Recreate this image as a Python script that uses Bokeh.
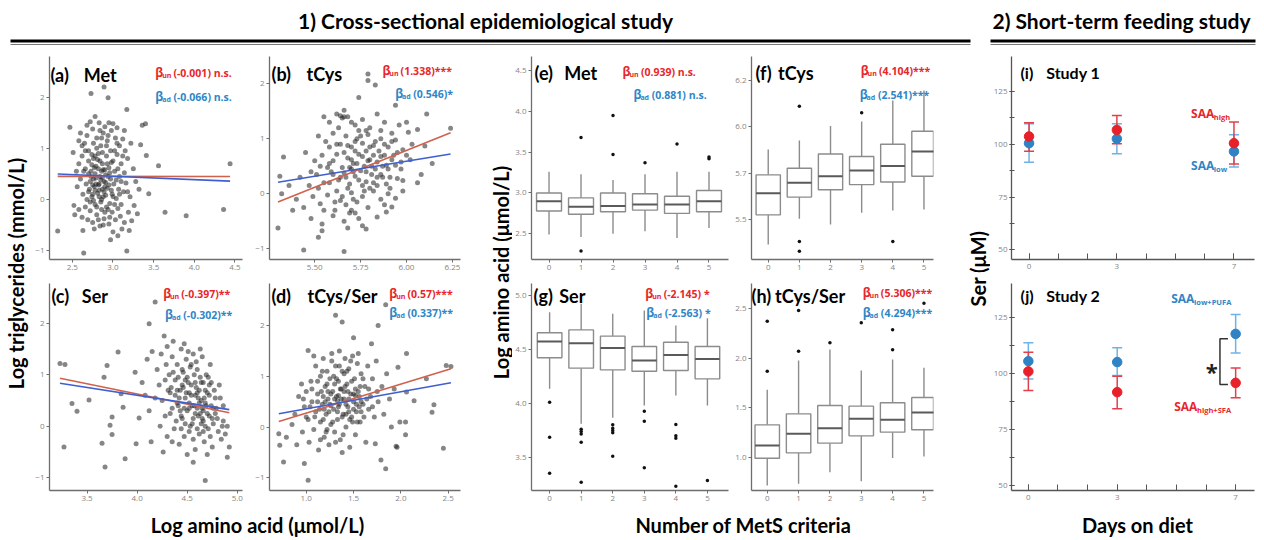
import math
from bokeh.plotting import figure
from bokeh.layouts import row, column
from bokeh.models import Range1d, Label, FixedTicker, NumeralTickFormatter
from bokeh.embed import file_html
from bokeh.resources import INLINE

# ------------------------------------------------------------------ data
met_pts = [(2.32,-0.62),(2.64,-1.05),(3.17,-1.01),(2.89,2.2),(2.73,2.07),(2.94,1.99),(3.17,1.76),(3.36,1.45),
    (3.40,1.48),(3.41,0.86),(3.56,0.66),(4.44,0.70),(3.64,-0.25),(3.90,-0.32),(4.36,-0.20),(3.44,0.11),(3.34,1.07),
    (2.47,1.41),(2.51,0.92),(2.52,-0.12),(2.53,-0.30),(2.63,-0.61),(2.77,-0.58),(3.0,-0.64),(3.11,-0.58),(3.2,-0.61),
    (2.97,-0.79),(3.06,-0.71),(2.60,1.30),(2.65,1.10),(2.68,1.45),(2.70,0.95),(2.72,1.52),(2.75,1.38),(2.78,1.62),
    (2.80,1.20),(2.83,1.50),(2.85,1.05),(2.88,1.30),(2.90,1.42),(2.93,1.15),(2.95,1.50),(2.98,1.35),(3.00,1.48),
    (3.03,1.20),(3.05,1.40),(3.08,1.05),(3.12,1.18),(3.15,0.95),(3.22,1.10),(2.58,0.70),(2.62,0.85),(2.66,0.60),
    (2.70,0.75),(2.73,0.55),(2.76,0.80),(2.79,0.65),(2.82,0.90),(2.84,0.45),(2.87,0.70),(2.90,0.58),(2.92,0.85),
    (2.95,0.62),(2.97,0.40),(3.00,0.75),(3.02,0.55),(3.05,0.88),(3.08,0.45),(3.10,0.70),(3.14,0.52),(3.18,0.80),
    (3.25,0.60),(3.28,0.35),(2.56,0.25),(2.60,0.40),(2.63,0.10),(2.67,0.30),(2.70,0.15),(2.72,0.35),(2.74,0.05),
    (2.77,0.25),(2.79,0.42),(2.81,0.12),(2.83,0.30),(2.85,-0.05),(2.87,0.20),(2.89,0.35),(2.91,0.08),(2.93,0.22),
    (2.96,-0.08),(2.98,0.18),(3.01,0.30),(3.04,0.02),(3.07,0.20),(3.10,-0.10),(3.13,0.15),(3.16,0.32),(3.21,0.05),
    (3.26,-0.12),(2.58,-0.20),(2.62,-0.35),(2.66,-0.15),(2.69,-0.40),(2.72,-0.22),(2.75,-0.45),(2.78,-0.10),
    (2.80,-0.30),(2.84,-0.52),(2.86,-0.20),(2.89,-0.38),(2.92,-0.15),(2.95,-0.48),(2.99,-0.25),(3.03,-0.40),
    (3.06,-0.18),(3.09,-0.33),(3.14,-0.45),(3.19,-0.25),(3.23,-0.42),(3.30,-0.28),(2.78,0.50),(2.82,0.60),
    (2.86,0.55),(2.74,0.68),(2.88,0.05),(2.76,-0.02),(2.94,0.45),(2.68,1.25),(3.32,0.20),(2.55,0.55),
    (2.71,0.20),(2.73,0.45),(2.75,0.10),(2.77,0.62),(2.79,0.30),(2.81,0.78),(2.83,0.05),(2.85,0.38),(2.87,0.92),
    (2.89,0.15),(2.91,0.48),(2.93,0.70),(2.95,0.28),(2.97,0.95),(2.99,0.10),(2.72,-0.05),(2.74,0.88),(2.76,0.40),
    (2.78,0.18),(2.80,1.00),(2.82,0.28),(2.84,0.75),(2.86,0.00),(2.88,0.58),(2.90,0.25),(2.92,1.05),(2.94,-0.20),
    (2.96,0.52),(2.98,0.72),(3.00,0.05),(3.02,0.95),(3.04,0.38),(2.70,0.50),(2.86,1.20),(2.80,-0.15),(2.90,-0.25),
    (2.84,1.35),(2.76,1.10),(2.94,1.25),(3.06,0.60),(3.08,0.10),(3.12,0.85),(2.68,0.00),(2.64,0.55),(2.66,0.95),
    (2.88,-0.50),(3.02,-0.10),(3.10,0.35),(2.82,-0.40),(2.96,-0.35),(2.78,0.85),(2.87,0.43),(2.83,0.18),(2.91,0.33),
    (2.75,0.28),(3.14,1.35),(3.18,0.15),(2.62,1.05),(2.58,1.15),(3.05,1.10)]

tcys_pts = [(5.79,2.18),(5.79,2.06),(5.83,1.98),(5.74,1.75),(6.11,1.45),(5.94,1.61),(5.33,0.67),(5.31,0.32),
    (5.32,0.00),(5.30,-0.62),(5.44,-1.02),(5.66,-1.05),(5.52,-0.79),(5.54,-0.67),(6.24,1.19),(6.14,0.55),(6.06,0.20),
    (6.10,0.87),(6.06,1.17),(6.01,1.12),(5.98,0.24),(5.92,-0.24),(5.89,-0.33),(5.78,-0.64),(5.70,-0.30),
    (5.55,1.40),(5.58,1.30),(5.62,1.45),(5.65,1.38),(5.66,1.52),(5.68,1.40),(5.72,1.25),(5.76,1.35),(5.80,1.20),
    (5.84,1.45),(5.88,1.30),(5.92,1.10),(5.96,1.25),(6.00,1.30),(5.52,1.05),(5.56,0.95),(5.60,1.10),(5.64,0.90),
    (5.67,1.05),(5.70,0.85),(5.73,1.00),(5.76,0.92),(5.79,1.08),(5.82,0.88),(5.86,1.00),(5.90,0.85),(5.94,0.98),
    (5.98,0.80),(6.03,0.90),(5.45,0.75),(5.50,0.60),(5.54,0.70),(5.58,0.55),(5.62,0.72),(5.65,0.48),(5.68,0.65),
    (5.71,0.55),(5.74,0.72),(5.77,0.50),(5.80,0.62),(5.83,0.45),(5.86,0.68),(5.89,0.52),(5.93,0.70),(5.97,0.58),
    (6.02,0.62),(5.42,0.30),(5.47,0.15),(5.51,0.35),(5.55,0.20),(5.59,0.40),(5.63,0.25),(5.66,0.38),(5.69,0.18),
    (5.72,0.32),(5.75,0.42),(5.78,0.22),(5.81,0.35),(5.84,0.15),(5.87,0.30),(5.91,0.10),(5.95,0.28),(5.40,-0.10),
    (5.44,-0.25),(5.49,-0.05),(5.53,-0.18),(5.57,-0.02),(5.61,-0.30),(5.64,-0.12),(5.67,-0.20),(5.70,0.02),
    (5.73,-0.15),(5.76,-0.05),(5.79,-0.25),(5.82,0.05),(5.86,-0.10),(5.90,0.00),(5.94,-0.08),(5.48,-0.45),
    (5.54,-0.55),(5.60,-0.40),(5.66,-0.50),(5.72,-0.35),(5.76,-0.58),(5.84,-0.42),(5.62,0.05),(5.70,0.45),
    (5.78,0.78),(5.58,0.85),(5.74,1.15),(5.88,0.70),(5.68,-0.62),(5.36,0.15),(5.38,-0.30),(6.08,0.35),(5.98,0.05),
    (5.60,0.60),(5.62,0.90),(5.64,0.30),(5.66,0.75),(5.68,0.10),(5.70,0.62),(5.72,0.95),(5.74,0.25),(5.76,0.68),
    (5.78,0.40),(5.80,0.85),(5.82,0.20),(5.84,0.58),(5.86,0.35),(5.88,0.90),(5.90,0.45),(5.92,0.62),(5.65,-0.05),
    (5.69,0.48),(5.73,0.55),(5.77,0.05),(5.81,0.50),(5.85,0.78),(5.89,0.18),(5.63,1.20),(5.67,0.30),(5.71,-0.10),
    (5.75,1.05),(5.79,0.60),(5.83,0.95),(5.87,0.50),(5.91,0.30),(5.95,0.75),(5.58,0.20),(5.61,-0.15),(5.57,0.48),
    (5.53,0.50),(5.55,-0.30),(5.70,1.30),(5.66,1.40),(5.64,1.42),(5.74,-0.45),(5.86,1.15),(5.92,0.95),(5.97,0.45),
    (6.00,0.70),(5.52,0.10),(5.48,0.40),(5.80,0.10),(5.72,0.78),(5.68,0.88),(5.76,0.15),(5.84,0.30),(5.60,0.35),
    (5.94,0.52),(5.78,1.15),(5.71,0.40),(5.82,0.70),(5.88,-0.20),(5.69,-0.35)]

ser_pts = [(3.23,1.22),(3.28,1.20),(3.27,-0.40),(3.35,0.44),(3.40,0.29),(3.52,0.51),(3.65,-0.33),(3.68,-0.79),
    (3.70,1.18),(3.67,0.95),(3.81,1.44),(3.75,0.18),(3.73,0.02),(3.75,-0.16),(3.84,0.63),(3.86,0.37),(3.88,-0.63),
    (4.12,1.99),(4.18,2.41),(3.99,-0.34),(3.98,1.05),(4.02,0.16),(4.68,-1.05),(4.92,-0.40),(4.90,-0.60),(4.85,0.00),
    (4.05,0.85),(4.08,0.60),(4.10,1.30),(4.15,1.45),(4.12,0.30),(4.14,-0.30),(4.20,1.10),(4.22,0.80),(4.24,1.40),
    (4.25,0.50),(4.27,1.75),(4.28,0.20),(4.30,1.55),(4.30,-0.20),(4.32,1.00),(4.33,0.65),(4.35,1.35),(4.35,0.35),
    (4.37,-0.05),(4.38,0.90),(4.40,1.20),(4.40,0.45),(4.42,-0.35),(4.43,0.70),(4.44,1.50),(4.45,0.15),(4.46,1.05),
    (4.47,-0.20),(4.48,0.55),(4.49,1.30),(4.50,0.30),(4.51,0.85),(4.52,-0.10),(4.53,1.15),(4.54,0.60),(4.55,0.05),
    (4.56,1.40),(4.57,0.40),(4.58,-0.45),(4.59,0.75),(4.60,1.10),(4.61,0.20),(4.62,-0.15),(4.63,0.95),(4.64,0.50),
    (4.65,1.35),(4.66,0.10),(4.67,-0.30),(4.68,0.70),(4.69,1.00),(4.70,0.25),(4.71,-0.05),(4.72,0.60),(4.74,0.85),
    (4.75,-0.40),(4.76,0.35),(4.78,0.55),(4.80,0.15),(4.82,0.80),(4.84,-0.25),(4.86,0.40),(4.88,-0.15),(4.23,0.00),
    (4.26,-0.50),(4.36,1.65),(4.41,0.95),(4.47,1.60),(4.54,1.20),(4.58,0.25),(4.63,1.50),(4.52,0.45),(4.45,0.80),
    (4.39,0.10),(4.60,0.65),(4.50,-0.55),(4.73,1.20),(4.18,0.55),(4.29,1.20),(4.56,-0.70),(4.66,0.85),(4.43,0.30),
    (4.34,0.75),(4.65,0.35),(4.70,-0.55),
    (4.42,0.55),(4.44,0.20),(4.46,0.75),(4.48,0.05),(4.50,0.95),(4.52,0.35),(4.54,0.80),(4.56,0.15),(4.58,0.60),
    (4.60,-0.05),(4.62,0.45),(4.64,0.85),(4.66,0.30),(4.68,0.00),(4.70,0.65),(4.72,0.20),(4.74,0.40),(4.76,0.05),
    (4.78,0.25),(4.45,1.10),(4.49,0.65),(4.53,0.00),(4.57,1.00),(4.61,0.55),(4.65,0.15),(4.69,0.40),(4.73,-0.20),
    (4.77,0.70),(4.81,-0.10),(4.55,0.40),(4.59,1.25),(4.63,0.25),(4.67,0.55),(4.71,0.95),(4.75,0.15),(4.41,0.40),
    (4.38,0.60),(4.36,1.05),(4.33,0.25),(4.31,0.70),(4.47,0.35),(4.51,1.45),(4.58,0.85),(4.62,0.70),(4.66,-0.10),
    (4.64,0.05),(4.60,0.35),(4.56,-0.25),(4.52,0.65),(4.48,0.90),(4.44,-0.05),(4.40,0.70),(4.68,0.45),(4.72,0.80),
    (4.79,0.35),(4.83,0.55),(4.86,0.10),(4.90,0.00),(4.35,-0.30),(4.28,0.90)]

ratio_pts = [(0.71,-0.13),(0.72,-0.36),(0.76,-0.69),(0.79,-0.20),(1.02,1.51),(0.98,-0.72),(1.02,-1.05),(1.31,2.20),
    (1.38,2.07),(1.50,1.76),(1.76,2.00),(1.84,2.41),(1.69,1.64),(2.06,1.45),(1.97,1.18),(2.27,0.95),(2.48,1.21),
    (2.53,1.19),(2.14,0.52),(2.35,0.44),(2.33,0.29),(2.45,-0.42),(2.05,0.10),(2.05,-0.15),(1.95,-0.38),(1.84,-0.82),
    (1.79,-0.65),(1.73,-0.33),(2.06,0.69),(1.99,0.10),(0.85,0.05),(0.88,0.25),(0.92,0.60),(0.95,0.85),(0.96,-0.10),
    (0.98,0.40),(1.00,0.70),(1.02,0.15),(1.03,-0.30),(1.05,0.90),(1.06,0.50),(1.08,-0.05),(1.10,1.20),(1.10,0.30),
    (1.12,0.65),(1.13,-0.45),(1.15,1.00),(1.15,0.10),(1.17,0.45),(1.18,1.35),(1.19,-0.20),(1.20,0.80),(1.21,0.25),
    (1.22,1.10),(1.23,0.55),(1.24,-0.35),(1.25,0.95),(1.26,0.05),(1.27,1.45),(1.28,0.70),(1.29,0.35),(1.30,-0.10),
    (1.31,1.20),(1.32,0.60),(1.33,0.15),(1.34,0.90),(1.35,1.50),(1.35,0.45),(1.36,-0.25),(1.37,0.75),(1.38,1.10),
    (1.39,0.25),(1.40,0.55),(1.41,1.35),(1.42,0.00),(1.43,0.85),(1.44,0.40),(1.45,1.15),(1.46,-0.40),(1.47,0.65),
    (1.48,0.20),(1.49,1.40),(1.50,0.50),(1.51,0.95),(1.52,-0.15),(1.53,0.30),(1.54,1.25),(1.55,0.70),(1.57,0.10),
    (1.58,1.05),(1.60,0.45),(1.62,0.80),(1.63,-0.30),(1.65,1.20),(1.66,0.35),(1.68,0.60),(1.70,0.95),(1.72,0.20),
    (1.74,1.30),(1.76,0.50),(1.80,0.80),(1.82,0.25),(1.85,1.05),(1.88,0.55),(1.90,0.00),(1.93,0.75),(1.96,-0.40),
    (1.26,0.42),(1.33,0.52),(1.40,0.70),(1.18,0.60),(1.45,0.30),(1.22,-0.05),(1.30,0.85),(1.52,0.62),(1.12,0.90),
    (1.38,-0.50),(1.56,0.40),(0.90,-0.35),(1.08,1.40),
    (1.14,0.35),(1.16,0.70),(1.18,0.15),(1.20,0.50),(1.22,0.85),(1.24,0.30),(1.26,0.65),(1.28,0.10),(1.30,0.55),
    (1.32,0.95),(1.34,0.40),(1.36,0.75),(1.38,0.20),(1.40,1.05),(1.42,0.45),(1.44,0.70),(1.46,0.15),(1.48,0.90),
    (1.50,0.35),(1.52,0.75),(1.54,0.10),(1.56,0.60),(1.58,0.30),(1.60,0.95),(1.17,1.10),(1.21,-0.10),(1.25,0.45),
    (1.29,1.00),(1.33,0.30),(1.37,0.55),(1.41,0.80),(1.45,0.55),(1.49,0.10),(1.53,0.45),(1.57,0.80),(1.61,0.20),
    (1.64,0.55),(1.12,0.50),(1.09,0.20),(1.06,0.75),(1.04,0.40),(1.27,1.30),(1.35,1.20),(1.43,1.10),(1.47,1.30),
    (1.31,-0.30),(1.39,-0.15),(1.23,0.70),(1.19,0.35),(1.34,0.62),(1.42,0.25),(1.50,0.65),(1.58,0.50),(1.66,0.75),
    (1.70,0.40),(1.75,0.70),(1.15,-0.25),(1.00,0.20),(0.97,0.55),(1.55,1.45)]

amino_names = ["Met", "tCys", "Ser", "tCys/Ser"]
scatter_beta_un = [-0.001, 1.338, -0.397, 0.57]
scatter_beta_ad = [-0.066, 0.546, -0.302, 0.337]
scatter_int_un = [0.452, -7.241, 2.214, -0.295]
scatter_int_ad = [0.650, -2.684, 1.809, 0.021]
scatter_sig_un = [" n.s.", "***", "**", "***"]
scatter_sig_ad = [" n.s.", "*", "**", "**"]

box_beta_un = [0.939, 4.104, -2.145, 5.306]
box_beta_ad = [0.881, 2.541, -2.563, 4.294]
box_sig_un = [" n.s.", "***", " *", "***"]
box_sig_ad = [" n.s.", "***", " *", "***"]

mets_criteria = [0, 1, 2, 3, 4, 5]
# (lower whisker, q1, median, q3, upper whisker)
met_box = [(2.49,2.78,2.90,3.00,3.26),(2.46,2.74,2.83,2.94,3.23),(2.50,2.77,2.84,3.00,3.16),
           (2.53,2.79,2.86,2.99,3.23),(2.45,2.75,2.86,2.96,3.26),(2.57,2.77,2.90,3.03,3.26)]
met_out = [(1,3.68),(1,2.29),(2,3.95),(2,3.47),(3,3.37),(4,3.60),(5,3.44),(5,3.42)]
tcys_box = [(5.376,5.525,5.634,5.726,5.853),(5.505,5.614,5.686,5.759,5.898),(5.476,5.651,5.719,5.831,5.971),
            (5.535,5.677,5.748,5.818,5.994),(5.547,5.690,5.770,5.880,6.100),(5.552,5.719,5.843,5.945,6.150)]
tcys_out = [(1,6.071),(1,5.391),(1,5.342),(3,6.038),(4,5.391)]
tcys_tick_labels = ["5.5", "5.7", "6.0", "6.2"]
ser_box = [(4.134,4.422,4.573,4.654,4.845),(3.81,4.326,4.558,4.681,4.923),(3.865,4.31,4.514,4.623,4.83),
           (3.98,4.298,4.397,4.527,4.86),(4.072,4.304,4.449,4.567,4.722),(3.98,4.227,4.412,4.527,4.79)]
ser_out = [(0,4.01),(0,3.685),(0,3.351),(1,3.76),(1,3.738),(1,3.716),(1,3.639),(1,3.268),(2,3.80),(2,3.769),
           (2,3.747),(2,3.726),(2,3.509),(3,3.927),(3,3.834),(3,3.401),(4,3.803),(4,3.70),(4,3.676),(4,3.231),(5,3.283)]
ratio_box = [(0.714,0.99,1.118,1.327,1.681),(0.731,1.044,1.236,1.438,1.978),(0.849,1.142,1.293,1.523,2.089),
             (0.757,1.216,1.388,1.516,1.876),(0.993,1.253,1.378,1.55,1.988),(1.007,1.277,1.452,1.603,1.903)]
ratio_out = [(0,2.375),(0,1.87),(1,2.483),(1,2.072),(2,2.156),(3,2.358),(4,2.288),(4,2.085),(5,2.557)]

days = [0, 3, 7]
s1_high_mean = [103.7, 106.8, 100.5]; s1_high_lo = [96.7, 100.2, 90.7]; s1_high_hi = [110.2, 113.6, 110.5]
s1_low_mean = [100.5, 102.6, 96.6];  s1_low_lo = [91.5, 95.5, 89.2];   s1_low_hi = [109.7, 109.7, 104.5]
s2_pufa_mean = [105.6, 105.2, 117.8]; s2_pufa_lo = [97.6, 99.2, 109.3]; s2_pufa_hi = [113.8, 111.6, 126.5]
s2_sfa_mean = [101.0, 91.75, 95.9];   s2_sfa_lo = [92.5, 84.3, 89.2];   s2_sfa_hi = [109.6, 98.9, 102.6]

# ------------------------------------------------------------------ style
FONT = "Lato"
SFONT = "Open Sans"
RED_TXT = "#e8262b"
BLUE_TXT = "#2f86c6"
RED_LINE = "#d0614c"
BLUE_LINE = "#3f5fcf"
AX = "#6e6e6e"
BOX_LINE = "#8c8c8c"
BOX_W = 0.78


def calib(v1, p1, v2, p2, q):
    return v1 + (q - p1) * (v2 - v1) / (p2 - p1)


def panel(ox, oy, w, h, bl, br, bt, bb, xcal, ycal):
    fx0, fx1 = ox + bl, ox + w - br
    fy0, fy1 = oy + bt, oy + h - bb
    xr = Range1d(calib(*xcal, fx0), calib(*xcal, fx1))
    yr = Range1d(calib(*ycal, fy1), calib(*ycal, fy0))
    p = figure(width=w, height=h, x_range=xr, y_range=yr, output_backend="svg", toolbar_location=None,
               min_border_left=bl, min_border_right=br, min_border_top=bt, min_border_bottom=bb)
    p.grid.visible = False
    p.outline_line_color = None
    for ax in p.axis:
        ax.axis_line_color = AX
        ax.axis_line_width = 1.3
        ax.major_tick_line_color = AX
        ax.major_tick_out = 3
        ax.major_tick_in = 0
        ax.minor_tick_line_color = None
        ax.major_label_text_font = SFONT
        ax.major_label_text_font_size = "8px"
        ax.major_label_text_color = "#858585"
        ax.major_label_standoff = 2

    def to_data(px, py):
        return calib(*xcal, px), calib(*ycal, py)
    return p, to_data


def add_text(p, m, px, py, text, size, color="black", font=FONT, align="left", angle=0.0):
    x, y = m(px, py)
    p.add_layout(Label(x=x, y=y, text=text, text_font=font, text_font_size=size, text_font_style="bold",
                       text_color=color, text_align=align, text_baseline="middle", angle=angle))


def beta_label(p, m, px, py, sub, rest, color):
    add_text(p, m, px, py, "β", "12px", color, font=SFONT)
    add_text(p, m, px + 7, py + 3, sub, "7px", color, font=SFONT)
    add_text(p, m, px + 18.5, py, rest, "10.5px", color, font=SFONT)


def title(p, m, tag, tag_px, name, name_px, py, size="18px"):
    add_text(p, m, tag_px, py, tag, size)
    add_text(p, m, name_px, py, name, size)


# geometry (reference pixel coordinates; page has no margin)
TOP_Y, TOP_H, TOP_BT, TOP_BB = 50, 225, 6, 16
BOT_Y, BOT_H, BOT_BT, BOT_BB = 275, 230, 8, 15
COL_A = (32, 220, 13, 10)
COL_B = (252, 218, 12, 10)
COL_E = (512, 220, 17, 4)
COL_F = (732, 211, 16, 10)
COL_I = (990, 272, 19, 8)


def mk(col, top, xcal, ycal):
    ox, w, bl, br = col
    if top:
        return panel(ox, TOP_Y, w, TOP_H, bl, br, TOP_BT, TOP_BB, xcal, ycal)
    return panel(ox, BOT_Y, w, BOT_H, bl, br, BOT_BT, BOT_BB, xcal, ycal)


# ------------------------------------------------------------------ scatter panels
scatter_specs = [
    (met_pts, COL_A, True, (2.5, 68.3, 4.5, 234.3), (2, 96.7, -1, 250.0), [2.5, 3.0, 3.5, 4.0, 4.5], "0.0",
     "(a)", 46, 80, 74, (153, 72), (153, 96)),
    (tcys_pts, COL_B, True, (5.25, 263.3, 6.25, 451.7), (2, 83.3, -1, 248.3), [5.25, 5.5, 5.75, 6.0, 6.25], "0.00",
     "(b)", 266, 302, 73, (380, 70), (393, 93)),
    (ser_pts, COL_A, False, (3.5, 83.3, 5.0, 236.7), (2, 322.7, -1, 477.3), [3.5, 4.0, 4.5, 5.0], "0.0",
     "(c)", 47, 78, 295, (161, 293), (163, 314)),
    (ratio_pts, COL_B, False, (1.0, 301.7, 2.5, 447.3), (2, 325.0, -1, 477.3), [1.0, 1.5, 2.0, 2.5], "0.0",
     "(d)", 266, 303, 295, (387, 293), (387, 312)),
]
scatter_figs = []
for i, (pts, col, top, xcal, ycal, xt, xf, tag, tpx, npx, tpy, rpos, bpos) in enumerate(scatter_specs):
    p, m = mk(col, top, xcal, ycal)
    xs = [q[0] for q in pts]
    ys = [q[1] for q in pts]
    p.scatter(xs, ys, size=5, fill_color="#222222", fill_alpha=0.55, line_color=None)
    x0, x1 = min(xs), max(xs)
    p.line([x0, x1], [scatter_int_un[i] + scatter_beta_un[i] * x0, scatter_int_un[i] + scatter_beta_un[i] * x1],
           line_color=RED_LINE, line_width=1.6)
    p.line([x0, x1], [scatter_int_ad[i] + scatter_beta_ad[i] * x0, scatter_int_ad[i] + scatter_beta_ad[i] * x1],
           line_color=BLUE_LINE, line_width=1.6)
    p.xaxis.ticker = FixedTicker(ticks=xt)
    p.xaxis.formatter = NumeralTickFormatter(format=xf)
    p.yaxis.ticker = FixedTicker(ticks=[-1, 0, 1, 2])
    title(p, m, tag, tpx, amino_names[i], npx, tpy)
    beta_label(p, m, rpos[0], rpos[1], "un", "(%s)%s" % (scatter_beta_un[i], scatter_sig_un[i]), RED_TXT)
    beta_label(p, m, bpos[0], bpos[1], "ad", "(%s)%s" % (scatter_beta_ad[i], scatter_sig_ad[i]), BLUE_TXT)
    scatter_figs.append(p)

# ------------------------------------------------------------------ box panels
tcys_ticks = [5.5 + k * (6.2 - 5.5) / 3 for k in range(4)]
box_specs = [
    (met_box, met_out, COL_E, True, (0, 546.7, 5, 708.3), (4.5, 70.0, 2.5, 233.3), [2.5, 3.0, 3.5, 4.0, 4.5],
     "(e)", 532, 562, 72, (621, 71), (632, 94)),
    (tcys_box, tcys_out, COL_F, True, (0, 765.0, 5, 923.3), (6.2, 80.0, 5.5, 219.3), tcys_ticks,
     "(f)", 752, 775, 72, (859, 70), (858, 94)),
    (ser_box, ser_out, COL_E, False, (0, 547.3, 5, 706.7), (5.0, 295.0, 3.5, 456.7), [3.5, 4.0, 4.5, 5.0],
     "(g)", 531, 557, 295, (644, 293), (645, 312)),
    (ratio_box, ratio_out, COL_F, False, (0, 764.0, 5, 923.3), (2.5, 308.3, 1.0, 456.7), [1.0, 1.5, 2.0, 2.5],
     "(h)", 748, 772, 295, (861, 292), (861, 312)),
]
box_figs = []
for i, (stats, outs, col, top, xcal, ycal, yt, tag, tpx, npx, tpy, rpos, bpos) in enumerate(box_specs):
    p, m = mk(col, top, xcal, ycal)
    cats = mets_criteria
    lo = [s[0] for s in stats]
    q1 = [s[1] for s in stats]
    med = [s[2] for s in stats]
    q3 = [s[3] for s in stats]
    hi = [s[4] for s in stats]
    p.segment(x0=cats, y0=q3, x1=cats, y1=hi, line_color=BOX_LINE, line_width=1.4)
    p.segment(x0=cats, y0=lo, x1=cats, y1=q1, line_color=BOX_LINE, line_width=1.4)
    p.vbar(x=cats, width=BOX_W, bottom=q1, top=q3, fill_color="white", line_color=BOX_LINE, line_width=1.4)
    p.segment(x0=[c - BOX_W / 2 for c in cats], y0=med, x1=[c + BOX_W / 2 for c in cats], y1=med,
              line_color="#5a5a5a", line_width=2)
    p.scatter([o[0] for o in outs], [o[1] for o in outs], size=3.5, fill_color="#111111", line_color=None)
    p.xaxis.ticker = FixedTicker(ticks=cats)
    p.yaxis.ticker = FixedTicker(ticks=yt)
    if i == 1:
        p.yaxis.major_label_overrides = {t: l for t, l in zip(tcys_ticks, tcys_tick_labels)}
    else:
        p.yaxis.formatter = NumeralTickFormatter(format="0.0")
    title(p, m, tag, tpx, amino_names[i], npx, tpy)
    beta_label(p, m, rpos[0], rpos[1], "un", "(%s)%s" % (box_beta_un[i], box_sig_un[i]), RED_TXT)
    beta_label(p, m, bpos[0], bpos[1], "ad", "(%s)%s" % (box_beta_ad[i], box_sig_ad[i]), BLUE_TXT)
    box_figs.append(p)

# ------------------------------------------------------------------ feeding panels
RED_PT = "#e8202a"
BLUE_PT = "#2f82c4"
RED_ERR = "#e0404a"
BLUE_ERR = "#6fb3e6"


def feeding(top, xcal, ycal, series, tag, name, tpy):
    p, m = mk(COL_I, top, xcal, ycal)
    for mean, lo, hi, cpt, cerr in series:
        p.segment(x0=days, y0=lo, x1=days, y1=hi, line_color=cerr, line_width=1.5)
        p.scatter(days, lo, marker="dash", size=10, line_color=cerr, line_width=1.5)
        p.scatter(days, hi, marker="dash", size=10, line_color=cerr, line_width=1.5)
    for mean, lo, hi, cpt, cerr in series:
        p.scatter(days, mean, size=9.5, fill_color=cpt, line_color=cpt)
    p.xaxis.ticker = FixedTicker(ticks=[0, 3, 7], minor_ticks=list(range(8)))
    p.yaxis.ticker = FixedTicker(ticks=[50, 75, 100, 125], minor_ticks=[50, 62.5, 75, 87.5, 100, 112.5, 125])
    for ax in p.axis:
        ax.axis_line_color = "#555555"
        ax.major_tick_line_color = "#555555"
        ax.minor_tick_line_color = "#555555"
    p.xaxis.major_tick_in = 6
    p.xaxis.major_tick_out = 0
    p.xaxis.minor_tick_in = 6
    p.xaxis.minor_tick_out = 0
    p.yaxis.major_tick_in = 3
    p.yaxis.major_tick_out = 2
    p.yaxis.minor_tick_in = 3
    p.yaxis.minor_tick_out = 2
    p.xaxis.major_label_standoff = 4
    add_text(p, m, 1018, tpy, tag, "16px")
    add_text(p, m, 1044, tpy, name, "16px")
    return p, m


p_i, m_i = feeding(True, (0, 1026.7, 7, 1233.3), (125, 91.0, 50, 249.3),
                   [(s1_low_mean, s1_low_lo, s1_low_hi, BLUE_PT, BLUE_ERR),
                    (s1_high_mean, s1_high_lo, s1_high_hi, RED_PT, RED_ERR)], "(i)", "Study 1", 72)
add_text(p_i, m_i, 1190, 113, "SAA", "12px", RED_TXT, font=SFONT)
add_text(p_i, m_i, 1213, 116, "high", "7.5px", RED_TXT, font=SFONT)
add_text(p_i, m_i, 1190, 165, "SAA", "12px", BLUE_TXT, font=SFONT)
add_text(p_i, m_i, 1213, 168, "low", "7.5px", BLUE_TXT, font=SFONT)

p_j, m_j = feeding(False, (0, 1026.0, 7, 1235.0), (125, 317.3, 50, 485.0),
                   [(s2_pufa_mean, s2_pufa_lo, s2_pufa_hi, BLUE_PT, BLUE_ERR),
                    (s2_sfa_mean, s2_sfa_lo, s2_sfa_hi, RED_PT, RED_ERR)], "(j)", "Study 2", 295)
add_text(p_j, m_j, 1170, 298, "SAA", "12px", BLUE_TXT, font=SFONT)
add_text(p_j, m_j, 1193, 301, "low+PUFA", "7.5px", BLUE_TXT, font=SFONT)
add_text(p_j, m_j, 1173, 406, "SAA", "12px", RED_TXT, font=SFONT)
add_text(p_j, m_j, 1196, 409, "high+SFA", "7.5px", RED_TXT, font=SFONT)
# significance bracket between the two day-7 means
br_x = days[-1] - 0.53
br_lo = s2_sfa_mean[-1] - 0.7
br_hi = s2_pufa_mean[-1] - 2.2
p_j.line([br_x + 0.27, br_x, br_x, br_x + 0.27], [br_hi, br_hi, br_lo, br_lo], line_color="#333333", line_width=1.5)
add_text(p_j, m_j, 1211, 370, "*", "22px", "#222222", font=SFONT, align="center")


# ------------------------------------------------------------------ frame texts
def blank(x0, x1, y0, y1):
    p = figure(width=x1 - x0, height=y1 - y0, x_range=Range1d(x0, x1), y_range=Range1d(y1, y0),
               output_backend="svg", toolbar_location=None, x_axis_location=None, y_axis_location=None,
               min_border=0)
    p.grid.visible = False
    p.outline_line_color = None
    return p


ident = lambda px, py: (px, py)

header = blank(0, 1262, 0, 50)
add_text(header, ident, 485, 20, "1) Cross-sectional epidemiological study", "21px", align="center")
add_text(header, ident, 1121, 20, "2) Short-term feeding study", "21px", align="center")
header.line([10, 970], [40.5, 40.5], line_color="black", line_width=3)
header.line([10, 970], [44, 44], line_color="#777777", line_width=1)
header.line([990, 1255], [40.5, 40.5], line_color="black", line_width=3)
header.line([990, 1255], [44, 44], line_color="#777777", line_width=1)

footer = blank(0, 1262, 505, 538)
add_text(footer, ident, 257, 524, "Log amino acid (μmol/L)", "20px", align="center")
add_text(footer, ident, 743, 524, "Number of MetS criteria", "20px", align="center")
add_text(footer, ident, 1137, 524, "Days on diet", "20px", align="center")

ylab1 = blank(0, 32, 50, 505)
add_text(ylab1, ident, 15, 273, "Log triglycerides (mmol/L)", "20px", align="center", angle=math.pi / 2)
ylab2 = blank(470, 512, 50, 505)
add_text(ylab2, ident, 500, 272, "Log amino acid (μmol/L)", "20px", align="center", angle=math.pi / 2)
ylab3 = blank(943, 990, 50, 505)
add_text(ylab3, ident, 977, 268, "Ser (μM)", "20px", align="center", angle=math.pi / 2)

pa, pb, pc, pd = scatter_figs
pe, pf, pg, ph = box_figs

body = row(
    ylab1,
    column(row(pa, pb), row(pc, pd)),
    ylab2,
    column(row(pe, pf), row(pg, ph)),
    ylab3,
    column(p_i, p_j),
)
layout = column(header, body, footer)

open("out.html", "w").write(file_html(layout, INLINE))
